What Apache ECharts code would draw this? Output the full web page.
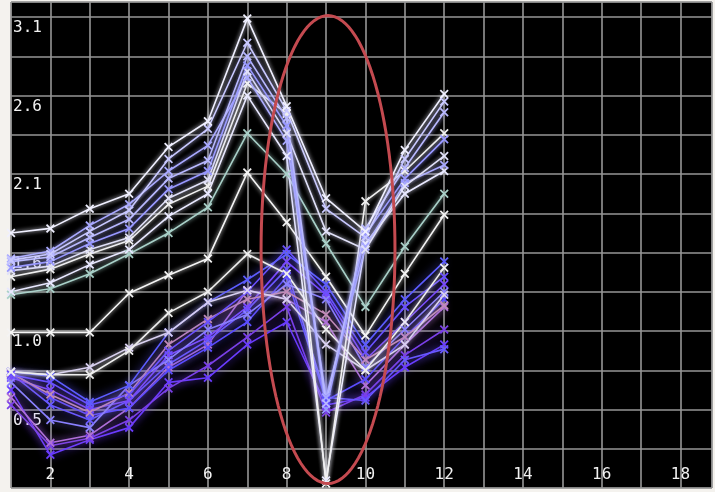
<!DOCTYPE html>
<html>
<head>
<meta charset="utf-8">
<script src="https://cdn.jsdelivr.net/npm/echarts@6/dist/echarts.min.js"></script>
<style>
  html, body { margin: 0; padding: 0; background: #f4f2ee; }
  #chart { width: 715px; height: 492px; }
</style>
</head>
<body>
<div id="chart"></div>
<script>
// x positions of the samples
const xs = [1, 2, 3, 4, 5, 6, 7, 8, 9, 10, 11, 12]

// upper bright bundle
const top1 = [1.69, 1.72, 1.85, 1.95, 2.26, 2.43, 3.11, 2.53, 1.92, 1.70, 2.24, 2.61]
const top2 = [1.51, 1.55, 1.70, 1.84, 2.18, 2.38, 2.95, 2.50, 1.85, 1.66, 2.18, 2.56]
const top3 = [1.50, 1.53, 1.66, 1.78, 2.05, 2.17, 2.86, 2.45, 0.56, 1.72, 2.12, 2.49]
const top4 = [1.46, 1.50, 1.62, 1.72, 1.98, 2.10, 2.80, 2.40, 0.52, 1.68, 2.05, 2.31]
const top5 = [1.44, 1.47, 1.58, 1.66, 1.92, 2.04, 2.76, 2.35, 1.70, 1.58, 2.00, 2.20]
const top6 = [1.52, 1.57, 1.74, 1.88, 2.10, 2.27, 2.72, 2.30, 0.60, 1.60, 2.02, 2.14]
const drop1 = [1.40, 1.45, 1.55, 1.64, 1.88, 2.00, 2.68, 2.48, 0.03, 1.90, 2.10, 2.35]
const drop2 = [1.30, 1.36, 1.48, 1.58, 1.80, 1.95, 2.60, 2.20, 0.05, 1.62, 1.95, 2.10]

// middle lines
const mid1 = [1.28, 1.32, 1.42, 1.55, 1.69, 1.86, 2.35, 2.08, 1.62, 1.20, 1.60, 1.95]
const mid2 = [1.03, 1.03, 1.03, 1.29, 1.41, 1.52, 2.09, 1.76, 1.40, 1.01, 1.42, 1.81]
const mid3 = [0.77, 0.75, 0.75, 0.91, 1.16, 1.30, 1.55, 1.42, 1.05, 0.78, 1.10, 1.46]
const mid4 = [0.77, 0.75, 0.80, 0.93, 1.03, 1.23, 1.31, 1.25, 0.95, 0.78, 0.95, 1.28]

// lower blue / purple bundle
const low1 = [0.77, 0.74, 0.57, 0.68, 1.03, 1.23, 1.38, 1.55, 1.35, 0.95, 1.25, 1.50]
const low2 = [0.75, 0.70, 0.55, 0.62, 0.91, 1.10, 1.30, 1.58, 1.30, 0.90, 1.20, 1.40]
const low3 = [0.73, 0.65, 0.52, 0.58, 0.88, 1.00, 1.20, 1.50, 1.28, 0.85, 1.10, 1.35]
const low4 = [0.77, 0.60, 0.48, 0.53, 0.78, 0.93, 1.10, 1.40, 0.58, 0.72, 1.00, 1.25]
const low5 = [0.60, 0.30, 0.35, 0.53, 0.80, 0.95, 1.31, 1.25, 1.10, 0.68, 0.95, 1.20]
const low6 = [0.55, 0.28, 0.33, 0.45, 0.66, 0.81, 1.00, 1.20, 0.50, 0.62, 0.88, 1.05]
const low7 = [0.65, 0.22, 0.32, 0.40, 0.70, 0.73, 0.95, 1.10, 0.55, 0.60, 0.80, 0.95]
const low8 = [0.70, 0.45, 0.40, 0.68, 0.85, 1.05, 1.15, 1.35, 1.25, 0.80, 1.05, 1.30]
const low9 = [0.76, 0.62, 0.50, 0.63, 0.95, 1.12, 1.25, 1.30, 1.15, 0.85, 1.00, 1.21]
const low10 = [0.76, 0.55, 0.45, 0.58, 0.82, 0.98, 1.18, 1.45, 0.60, 0.58, 0.85, 0.92]

// tick labels
const xTickLabels = ['2', '4', '6', '8', '10', '12', '14', '16', '18']
const yTickLabels = ['0.5', '1.0', '1.6', '2.1', '2.6', '3.1']
const yStep = 0.26

// red ellipse around x = 9 (center and radii in data units)
const ringCenter = [9.05, 1.58]
const ringRadius = [1.7, 1.55]

// drawing order: bottom first
const lines = [
    [low7, '#6a3cff'], [low6, '#7a40e8'], [low5, '#b070d8'], [low4, '#5a4cff'],
    [low10, '#6858ff'], [low3, '#7848ff'], [low8, '#8a80ff'], [low9, '#c08ab8'],
    [low2, '#6a50ff'], [low1, '#5c5cff'],
    [mid4, '#d8d0f0'], [mid3, '#eeeeee'], [mid2, '#f4f4f4'], [mid1, '#a8d0c8'],
    [drop2, '#e8e8ff'], [drop1, '#f0f0f0'],
    [top6, '#a8a8ff'], [top5, '#e0e0f8'], [top4, '#9898ff'], [top3, '#b8b8ff'],
    [top2, '#c8c8ff'], [top1, '#f0f0ff']
]

const crossPath = 'path://M0,1.4L1.4,0L5,3.6L8.6,0L10,1.4L6.4,5L10,8.6L8.6,10L5,6.4L1.4,10L0,8.6L3.6,5Z'

const series = lines.map(([vals, color], i) => ({
    type: 'line',
    data: xs.map((x, j) => [x, vals[j]]),
    symbol: crossPath,
    symbolSize: 9,
    showSymbol: true,
    itemStyle: { color: color },
    lineStyle: { color: color, width: 1.6, shadowBlur: i < 10 ? 8 : 4, shadowColor: color },
    emphasis: { disabled: true }
}))

series.push({
    type: 'custom',
    data: [ringCenter],
    silent: true,
    z: 10,
    renderItem: function (params, api) {
        const c = api.coord([api.value(0), api.value(1)])
        const s = api.size(ringRadius)
        const pts = []
        for (let i = 0; i <= 120; i++) {
            const a = i / 120 * Math.PI * 2
            pts.push([c[0] + s[0] * Math.cos(a), c[1] + s[1] * Math.sin(a)])
        }
        return {
            type: 'polyline',
            shape: { points: pts },
            style: { stroke: '#c44a50', lineWidth: 3, fill: null }
        }
    }
})

const chart = echarts.init(document.getElementById('chart'))
chart.setOption({
    animation: false,
    backgroundColor: '#f4f2ee',
    grid: {
        left: 11, right: 3, top: 2, bottom: 4,
        show: true, backgroundColor: '#000000', borderColor: '#a0a0a0', borderWidth: 1
    },
    xAxis: {
        type: 'value', min: 1, max: 18.8, interval: 1,
        axisLine: { show: false },
        axisTick: { show: false },
        splitLine: { lineStyle: { color: '#969696', width: 1.6 } },
        axisLabel: {
            inside: true, margin: 5, color: '#f2f2f2',
            fontFamily: 'DejaVu Sans Mono', fontSize: 16,
            showMaxLabel: false,
            formatter: function (v) {
                if (Math.abs(v - Math.round(v)) > 1e-6 || v % 2 !== 0) return ''
                return xTickLabels[v / 2 - 1] || ''
            }
        }
    },
    yAxis: {
        type: 'value', min: 0, max: 3.22, interval: yStep,
        axisLine: { show: false },
        axisTick: { show: false },
        splitLine: { lineStyle: { color: '#969696', width: 1.6 } },
        axisLabel: {
            inside: true, margin: 2, color: '#f2f2f2',
            fontFamily: 'DejaVu Sans Mono', fontSize: 16,
            verticalAlign: 'top', padding: [3, 0, 0, 0],
            showMaxLabel: false,
            formatter: function (v) {
                const k = Math.round(v / yStep)
                if (Math.abs(v - k * yStep) > 1e-6 || k === 0 || k % 2 !== 0) return ''
                return yTickLabels[k / 2 - 1] || ''
            }
        }
    },
    series: series
})
</script>
</body>
</html>
